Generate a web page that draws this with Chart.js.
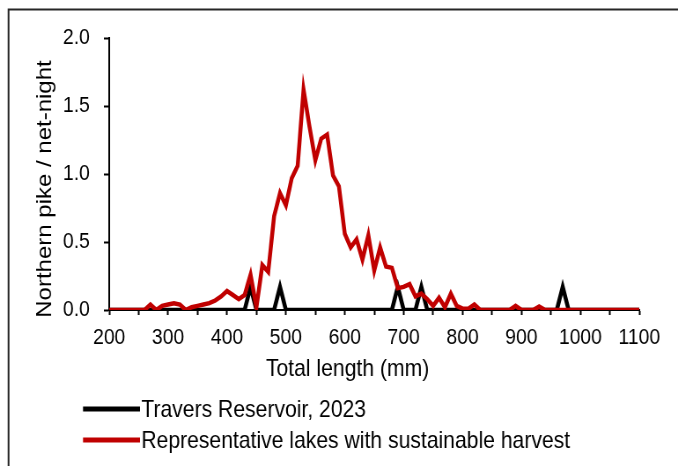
<!DOCTYPE html>
<html><head><meta charset="utf-8">
<script src="https://cdn.jsdelivr.net/npm/chart.js@4/dist/chart.umd.min.js"></script>
<style>
html,body{margin:0;padding:0;background:#fff;overflow:hidden;}
#c{display:block;}
</style></head>
<body>
<canvas id="c" width="770" height="466" style="width:678px;height:466px"></canvas>
<script>
// ---- data ----
const lengthsMm = [200,210,220,230,240,250,260,270,280,290,300,310,320,330,340,350,360,370,380,390,
  400,410,420,430,440,450,460,470,480,490,500,510,520,530,540,550,560,570,580,590,
  600,610,620,630,640,650,660,670,680,690,700,710,720,730,740,750,760,770,780,790,
  800,810,820,830,840,850,860,870,880,890,900,910,920,930,940,950,960,970,980,990,
  1000,1010,1020,1030,1040,1050,1060,1070,1080,1090,1100];
const traversCpue = [0,0,0,0,0,0,0,0,0,0, 0,0,0,0,0,0,0,0,0,0,
  0,0,0,0,0.17,0,0,0,0,0.17, 0,0,0,0,0,0,0,0,0,0,
  0,0,0,0,0,0,0,0,0,0.17, 0,0,0,0.17,0,0,0,0,0,0,
  0,0,0,0,0,0,0,0,0,0, 0,0,0,0,0,0,0,0.17,0,0,
  0,0,0,0,0,0,0,0,0,0,0];
const representativeCpue = [0,0,0,0,0,0,0,0.04,0,0.03, 0.04,0.05,0.04,0,0.02,0.03,0.04,0.05,0.07,0.10,
  0.14,0.11,0.08,0.11,0.26,0.02,0.33,0.28,0.69,0.86, 0.77,0.97,1.06,1.62,1.35,1.10,1.26,1.29,0.99,0.91,
  0.56,0.46,0.52,0.37,0.55,0.29,0.46,0.32,0.31,0.16, 0.17,0.19,0.10,0.12,0.08,0.03,0.09,0.02,0.12,0.03,
  0.01,0.01,0.04,0,0,0,0,0,0,0.03, 0,0,0,0.025,0,0,0,0,0,0,
  0,0,0,0,0,0,0,0,0,0,0];
const seriesNames = ['Travers Reservoir, 2023', 'Representative lakes with sustainable harvest'];
const xTitle = 'Total length (mm)';
const yTitle = 'Northern pike / net-night';
const xTickStep = 50, xLabelStep = 100, xMin = 200, xMax = 1100;
const yMin = 0, yMax = 2, yStep = 0.5;

const FONT = "'Liberation Sans', Arial, sans-serif";
const colors = ['#000000', '#C00000'];

const toPoints = vals => vals.map((v, i) => ({x: lengthsMm[i], y: v}));

const decor = {
  id: 'decor',
  afterDraw(chart) {
    const ctx = chart.ctx;
    ctx.save();
    // outer frame (top and left edges visible)
    ctx.strokeStyle = '#262626';
    ctx.lineWidth = 2;
    ctx.beginPath();
    ctx.moveTo(9.7, 480); ctx.lineTo(9.7, 9.5); ctx.lineTo(800, 9.5);
    ctx.stroke();
    ctx.fillStyle = '#000';
    // axis titles
    ctx.font = '24px ' + FONT;
    ctx.textAlign = 'center';
    ctx.textBaseline = 'middle';
    ctx.fillText(xTitle, 394.7, 369);
    ctx.save();
    ctx.translate(51, 189);
    ctx.rotate(-Math.PI / 2);
    ctx.fillText(yTitle, 0, 0);
    ctx.restore();
    // legend
    const rows = [409, 440];
    chart.data.datasets.forEach((ds, i) => {
      ctx.strokeStyle = ds.borderColor;
      ctx.lineWidth = 5;
      ctx.beginPath();
      ctx.moveTo(94.3, rows[i]); ctx.lineTo(159, rows[i]);
      ctx.stroke();
      ctx.textAlign = 'left';
      ctx.fillText(ds.label, 160.5, rows[i] + 1);
    });
    ctx.restore();
  }
};

new Chart(document.getElementById('c'), {
  type: 'line',
  data: {
    datasets: [
      {label: seriesNames[0], data: toPoints(traversCpue), borderColor: colors[0], backgroundColor: colors[0],
       borderWidth: 4.5, pointRadius: 0, tension: 0, order: 1},
      {label: seriesNames[1], data: toPoints(representativeCpue), borderColor: colors[1], backgroundColor: colors[1],
       borderWidth: 4.5, pointRadius: 0, tension: 0, order: 0}
    ]
  },
  options: {
    responsive: false,
    animation: false,
    devicePixelRatio: 1,
    layout: {padding: {left: 0, right: 44, top: 38, bottom: 116}},
    plugins: {legend: {display: false}, tooltip: {enabled: false}},
    scales: {
      x: {
        type: 'linear', min: xMin, max: xMax,
        afterFit: s => { s.height = 40; },
        ticks: {stepSize: xTickStep, autoSkip: false, maxRotation: 0, color: '#000',
          font: {family: FONT, size: 22}, padding: 10,
          callback: v => (v % xLabelStep === 0 ? String(v) : '')},
        grid: {drawOnChartArea: false, drawTicks: true, tickLength: 5, tickWidth: 2, tickColor: '#000'},
        border: {display: true, color: '#000', width: 2}
      },
      y: {
        min: yMin, max: yMax,
        afterFit: s => { s.width = 124; },
        ticks: {stepSize: yStep, color: '#000', font: {family: FONT, size: 22}, padding: 16,
          callback: v => v.toFixed(1)},
        grid: {drawOnChartArea: false, drawTicks: true, tickLength: 6, tickWidth: 2, tickColor: '#000'},
        border: {display: true, color: '#000', width: 2}
      }
    }
  },
  plugins: [decor]
});
</script>
</body></html>
